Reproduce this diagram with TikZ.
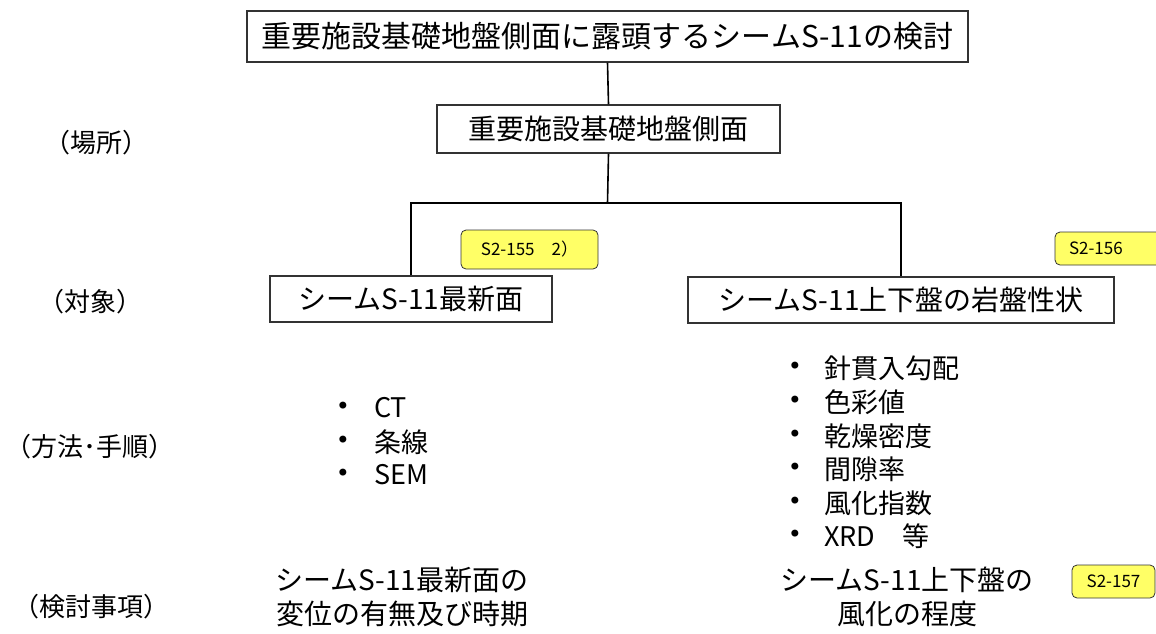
\documentclass[tikz,border=0pt]{standalone}
\usepackage{fontspec}
\setmainfont{Noto Sans CJK JP}
\newfontfamily\dotfont{DejaVu Sans}
\usetikzlibrary{positioning}
\definecolor{tagyellow}{RGB}{255,255,102}

\begin{document}
\begin{tikzpicture}[
 x=1pt, y=-1pt,
 box/.style={draw=black!80,line width=1.2pt,inner sep=0pt,font=\fontsize{28}{32}\selectfont},
 link/.style={black,line width=1.6pt},
 tag/.style={draw=black!80,line width=0.8pt,rounded corners=5pt,fill=tagyellow,inner sep=0pt,
   font=\fontsize{17}{20}\selectfont},
 stage/.style={font=\fontsize{26}{30}\selectfont},
 item/.style={anchor=west,inner sep=0pt,font=\fontsize{27}{30}\selectfont},
 dot/.style={inner sep=0pt,font=\dotfont\fontsize{24}{26}\selectfont},
 result/.style={align=center,font=\fontsize{28}{34}\selectfont},
]
\useasboundingbox (0,0) rectangle (1156,633);

% Tree
\node[box,minimum width=721pt,minimum height=51pt,font=\fontsize{30}{34}\selectfont] (goal) at (607.5,36.5)
  {重要施設基礎地盤側面に露頭するシームS-11の検討};
\node[box,minimum width=343pt,minimum height=48pt] (site) at (608.5,129)
  {重要施設基礎地盤側面};
\node[box,minimum width=282pt,minimum height=46pt] (seam) at (411,299)
  {シームS-11最新面};
\node[box,minimum width=426pt,minimum height=46pt] (rock) at (901,300)
  {シームS-11上下盤の岩盤性状};
\coordinate (fork) at (607.5,203);

\draw[link] (goal.south) -- (site.north);
\draw[link] (site.south) -- (fork);
\draw[link] (seam.north) |- (fork) -| (rock.north);

% Reference tags
\node[tag,minimum width=137pt,minimum height=39pt] (tag1) at (529.5,249.5) {S2-155　2）};
\node[tag,minimum width=112pt,minimum height=33pt,text width=84pt,align=left] (tag2) at (1111,248.5) {S2-156};
\node[tag,minimum width=83pt,minimum height=33pt] (tag3) at (1113.5,581.5) {S2-157};

% Stages
\node[stage] (where) at (96,143) {（場所）};
\node[stage] (what) at (90,302) {（対象）};
\node[stage] (how) at (90,447) {（方法･手順）};
\node[stage] (check) at (91,607) {（検討事項）};

% Methods
\foreach \i/\y/\txt in {1/408/CT, 2/442/条線, 3/475/SEM} {
    \node[dot] (lb\i) at (343,\y) {•};
    \node[item] (lm\i) at (374,\y) {\txt};
}
\foreach \i/\y/\txt in {1/368/針貫入勾配, 2/402/色彩値, 3/436/乾燥密度, 4/469/間隙率, 5/503/風化指数, 6/536/XRD　等} {
    \node[dot] (rb\i) at (795,\y) {•};
    \node[item] (rm\i) at (824,\y) {\txt};
}

% Results
\node[result] (lres) at (402,597) {シームS-11最新面の\\変位の有無及び時期};
\node[result] (rres) at (907,597) {シームS-11上下盤の\\風化の程度};

\end{tikzpicture}
\end{document}
